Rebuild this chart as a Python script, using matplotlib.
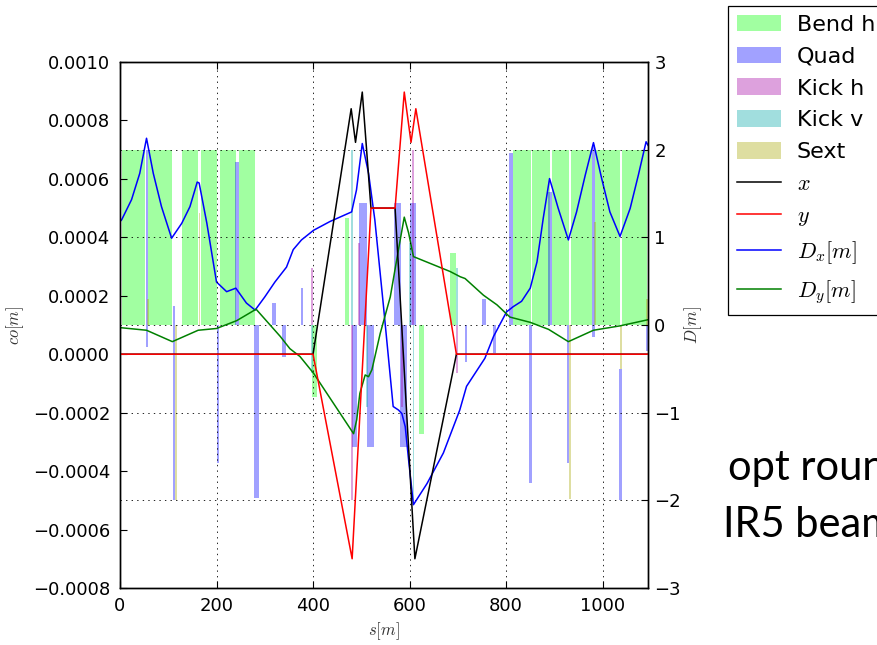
import matplotlib
matplotlib.use('Agg')
import matplotlib.pyplot as plt
from matplotlib.patches import Patch
from matplotlib.lines import Line2D
from matplotlib.ticker import FuncFormatter, MultipleLocator

plt.rcParams['mathtext.fontset'] = 'cm'
plt.rcParams['font.family'] = 'DejaVu Sans'
plt.rcParams['lines.scale_dashes'] = False

# closed orbit [m] along s [m]
s_x = [0, 400, 479, 488, 502, 520, 570, 611, 697, 1094]
co_x = [0, 0, 0.00084, 0.000725, 0.000897, 0.0005, 0.0005, -0.0007, 0, 0]
s_y = [0, 400, 481, 520, 570, 589, 603, 613, 697, 1094]
co_y = [0, 0, -0.0007, 0.0005, 0.0005, 0.000897, 0.000725, 0.00084, 0, 0]

# dispersion [m]
s_dx = [0, 3.5, 24, 41, 55, 69, 86, 107, 128, 145, 160, 164, 180, 200, 221, 240,
        262, 280, 300, 321, 345, 359, 376, 401, 435, 480, 490, 502, 515, 528, 546,
        566, 577, 584, 591, 598, 608, 636, 670, 704, 718, 756, 774, 801, 815, 832,
        850, 864, 877, 890, 908, 929, 946, 964, 981, 998, 1015, 1036, 1057, 1074,
        1090, 1094]
dx = [1.18, 1.2, 1.43, 1.73, 2.13, 1.73, 1.35, 0.99, 1.16, 1.35, 1.63, 1.62, 1.16,
      0.49, 0.38, 0.42, 0.25, 0.17, 0.32, 0.49, 0.66, 0.86, 0.97, 1.08, 1.18, 1.29,
      1.54, 2.07, 1.73, 1.20, 0.21, -0.93, -0.97, -1.01, -1.16, -1.54, -2.05, -1.81,
      -1.46, -0.97, -0.70, -0.38, -0.13, 0.15, 0.21, 0.27, 0.42, 0.72, 1.22, 1.67,
      1.33, 0.97, 1.29, 1.71, 2.08, 1.67, 1.29, 1.01, 1.33, 1.71, 2.09, 2.05]
s_dy = [0, 55, 108.5, 162, 200, 242, 282, 332, 352, 373, 401, 484, 490.5, 497, 508,
        515, 522, 539, 560, 577, 589, 598, 608, 684, 705, 715, 753, 781, 808, 850,
        888, 929, 981, 1036, 1094]
dy = [-0.03, -0.06, -0.19, -0.06, -0.04, 0.05, 0.18, -0.13, -0.27, -0.36, -0.55,
      -1.24, -1.08, -0.78, -0.57, -0.59, -0.51, -0.10, 0.32, 0.86, 1.23, 1.05, 0.78,
      0.61, 0.55, 0.53, 0.34, 0.23, 0.09, 0.03, -0.05, -0.19, -0.06, -0.01, 0.06]

# lattice elements: start, length, strength (drawn on the D axis)
bend_start = [3.5, 57.5, 129, 167, 207, 247, 398.6, 466, 619, 683,
              814, 854, 895, 935, 984, 1040]
bend_len = [49, 49.5, 33, 33, 33, 33, 10.4, 9, 10, 13, 37, 37, 36, 43, 52, 52]
bend_h = [2, 2, 2, 2, 2, 2, -0.82, 1.22, -1.24, 0.82, 2, 2, 2, 2, 2, 2]

quad_start = [0, 53, 110.5, 200, 238, 278, 316, 335, 374.5, 481, 496, 512.5,
              568.5, 581, 600, 715, 751, 772, 806, 848, 886, 926, 978, 1034, 1089]
quad_len = [3, 4.5, 4.5, 5, 8, 10, 7, 8, 5.5, 11, 16, 13.5,
            13, 13, 13.5, 5, 7, 7, 8, 6, 9, 5, 6, 6, 5]
quad_lo = [-2.0, -0.25, -2.0, -1.58, 0, -1.97, 0, -0.36, 0, -1.39, 0, -1.39,
           0, -1.39, 0, -0.42, 0, -0.32, 0, -1.80, 0, -1.58, -0.14, -2.0, -0.3]
quad_hi = [-0.5, 2.0, 0.22, 0, 1.86, 0, 0.25, 0, 0.42, 0, 1.39, 0,
           1.39, 0, 1.39, 0, 0.30, 0, 1.96, 0, 1.52, 0, 2.05, -0.5, 0]

kickh_start = [396, 479, 492.5, 582, 606, 696]
kickh_len = [4, 4, 5, 4, 4, 4]
kickh_h = [0.65, -2.0, 0.93, -0.93, 2.0, -0.55]

kickv_start = [396, 479.5, 510, 599, 607, 697]
kickv_len = [3, 3, 4, 4, 3, 4]
kickv_h = [-0.55, 2.0, -0.93, 0.93, -2.0, 0.65]

sext_start = [0, 57, 115, 163, 930.5, 982, 1036, 1090]
sext_len = [2.5, 3, 3, 3, 3.5, 4, 4, 4]
sext_h = [-0.5, 0.3, -2.0, 1.28, -1.98, 1.17, -0.5, 0.3]

ALPHA = 0.37
BEND_C = '#00ff00'
QUAD_C = '#0000ff'
KICKH_C = '#a300a3'
KICKV_C = '#00a6a6'
SEXT_C = '#a6a600'


def co_fmt(v, pos):
    txt = '%.4f' % v
    if txt == '-0.0000':
        txt = '0.0000'
    return txt.replace('-', '\u2212')


fig = plt.figure(figsize=(8.77, 6.45), dpi=100)
ax = fig.add_axes([0.1368, 0.0884, 0.6021, 0.8155])
ax2 = ax.twinx()
ax.set_zorder(ax2.get_zorder() + 1)
ax.patch.set_visible(False)

ax2.bar(bend_start, bend_h, width=bend_len, align='edge', color=BEND_C,
        alpha=ALPHA, linewidth=0)
ax2.bar(quad_start, [h - l for h, l in zip(quad_hi, quad_lo)], bottom=quad_lo,
        width=quad_len, align='edge', color=QUAD_C, alpha=ALPHA, linewidth=0)
ax2.bar(kickh_start, kickh_h, width=kickh_len, align='edge', color=KICKH_C,
        alpha=ALPHA, linewidth=0)
ax2.bar(kickv_start, kickv_h, width=kickv_len, align='edge', color=KICKV_C,
        alpha=ALPHA, linewidth=0)
ax2.bar(sext_start, sext_h, width=sext_len, align='edge', color=SEXT_C,
        alpha=ALPHA, linewidth=0)

ax2.plot(s_dx, dx, color='b', lw=1.1)
ax2.plot(s_dy, dy, color='#008000', lw=1.1)
ax.plot(s_x, co_x, color='k', lw=1.1)
ax.plot(s_y, co_y, color='r', lw=1.1)

ax.set_xlim(0, 1094)
ax.set_ylim(-0.0008, 0.0010)
ax2.set_ylim(-3, 3)
ax.xaxis.set_major_locator(MultipleLocator(200))
ax.yaxis.set_major_locator(MultipleLocator(0.0002))
ax.yaxis.set_major_formatter(FuncFormatter(co_fmt))
ax2.yaxis.set_major_locator(MultipleLocator(1))

ax.grid(axis='x', color='k', linestyle=(0, (1, 3)), linewidth=0.6)
ax2.grid(axis='y', color='k', linestyle=(0, (1, 3)), linewidth=0.6)

ax.tick_params(axis='x', direction='in', length=5, width=0.8, labelsize=13,
               top=True, pad=6.5)
ax.tick_params(axis='y', direction='in', length=5, width=0.8, labelsize=13, pad=7)
ax2.tick_params(axis='y', direction='in', length=5, width=0.8, labelsize=13, pad=4.5)
for a in (ax, ax2):
    for sp in a.spines.values():
        sp.set_linewidth(1.0)

ax.set_xlabel('$s[m]$', fontsize=12, labelpad=4, color='#333333')
ax.set_ylabel('$co[m]$', fontsize=12, labelpad=5, color='#333333')
ax2.set_ylabel('$D[m]$', fontsize=12, labelpad=1, color='#333333')

handles = [Patch(facecolor=c, alpha=ALPHA, edgecolor='none')
           for c in (BEND_C, QUAD_C, KICKH_C, KICKV_C, SEXT_C)]
handles += [Line2D([], [], color=c, lw=1.1) for c in ('k', 'r', 'b', '#008000')]
labels = ['Bend h', 'Quad', 'Kick h', 'Kick v', 'Sext',
          '$x$', '$y$', '$D_x[m]$', '$D_y[m]$']
leg = fig.legend(handles, labels, loc='upper left',
                 bbox_to_anchor=(728 / 877, 1 - 6 / 645), borderaxespad=0,
                 fontsize=16, fancybox=False, edgecolor='k', framealpha=1,
                 handlelength=2.0, handleheight=0.77, handletextpad=0.7,
                 labelspacing=0.53, borderpad=0.4)
leg.get_frame().set_linewidth(0.9)

fig.text(728 / 877, 1 - 480 / 645, 'opt round', fontsize=30, family='Lato',
         va='baseline', ha='left')
fig.text(723 / 877, 1 - 537 / 645, 'IR5 beam', fontsize=30, family='Lato',
         va='baseline', ha='left')

fig.savefig('out.png', dpi=100, facecolor='white')
